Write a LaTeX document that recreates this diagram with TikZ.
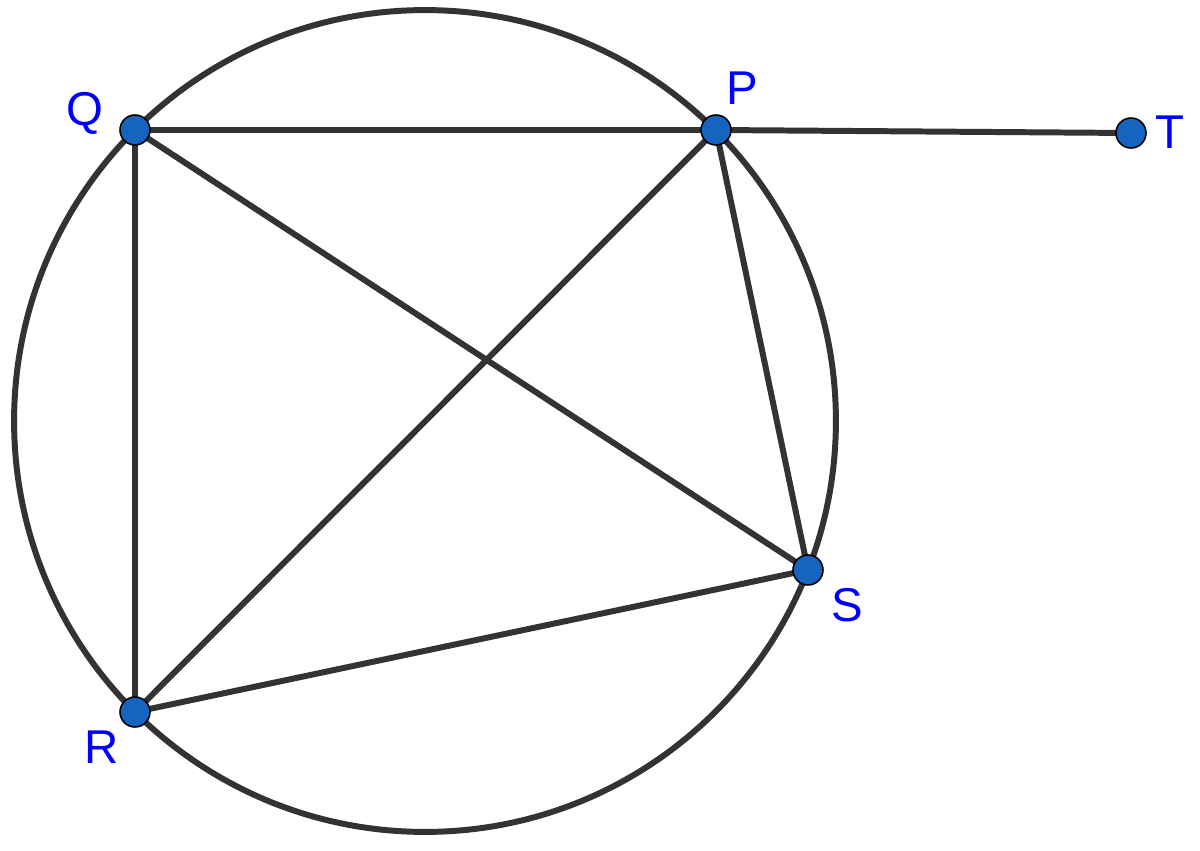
\documentclass[tikz,border=0pt]{standalone}
\usepackage{fontspec}
\setmainfont{Liberation Sans}
\usetikzlibrary{positioning}
\definecolor{ptblue}{HTML}{1565C0}
\definecolor{lblblue}{HTML}{0000FF}
\definecolor{segcol}{HTML}{333333}

\begin{document}
\begin{tikzpicture}[x=0.02cm,y=-0.02cm,
        seg/.style={draw=segcol,line width=3.4pt},
        pt/.style={circle,fill=ptblue,draw=black,line width=0.9pt,minimum size=0.6cm,inner sep=0pt},
        lbl/.style={text=lblblue,font=\fontsize{27}{27}\selectfont,inner sep=0pt}]
        \useasboundingbox (0,0) rectangle (1200,851);
        \coordinate (O) at (425,421);
        \coordinate (Q) at (135,130);
        \coordinate (P) at (716,130);
        \coordinate (T) at (1131,133);
        \coordinate (S) at (808,570);
        \coordinate (R) at (135,712);
        \draw[seg] (O) circle[radius=8.22cm];
        \draw[seg] (Q) -- (P) -- (T);
        \draw[seg] (Q) -- (R) -- (S) -- (P) -- (R);
        \draw[seg] (Q) -- (S);
        \foreach \p in {Q,P,T,S,R}
            \node[pt] (\p dot) at (\p) {};
        \node[lbl] (Qlbl) at (85,113) {Q};
        \node[lbl] (Plbl) at (742,88) {P};
        \node[lbl] (Tlbl) at (1170,132) {T};
        \node[lbl] (Slbl) at (847,605) {S};
        \node[lbl] (Rlbl) at (102,747) {R};
    \end{tikzpicture}
\end{document}
